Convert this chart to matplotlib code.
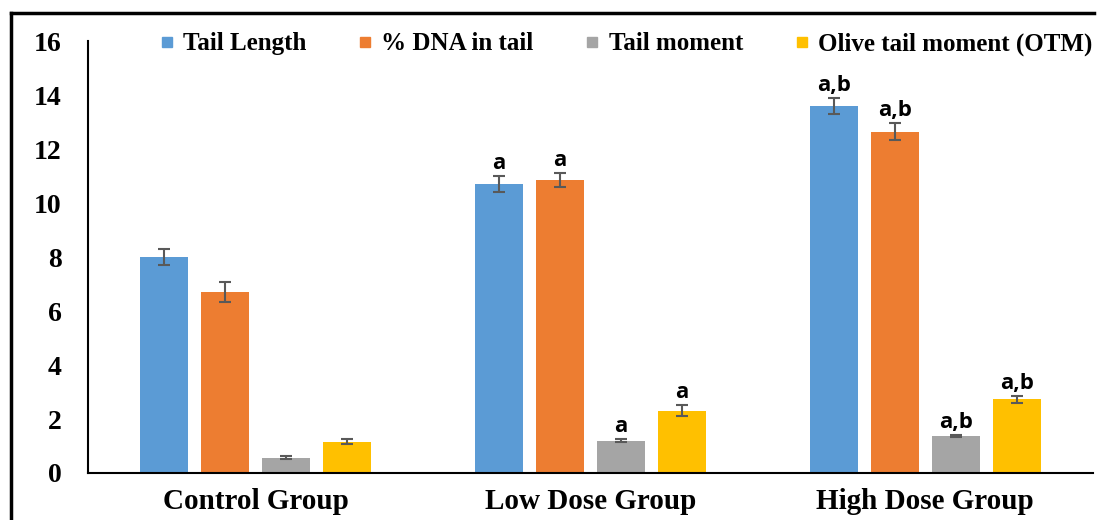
import numpy as np
import matplotlib
matplotlib.use("Agg")
import matplotlib.pyplot as plt
from matplotlib.lines import Line2D

# Comet assay parameters per group
groups = ["Control Group", "Low Dose Group", "High Dose Group"]
series = ["Tail Length", "% DNA in tail", "Tail moment", "Olive tail moment (OTM)"]
tail_length = [8.0, 10.7, 13.6]
dna_in_tail = [6.7, 10.85, 12.65]
tail_moment = [0.57, 1.2, 1.37]
olive_tm = [1.16, 2.31, 2.73]
tail_length_err = [0.3, 0.3, 0.3]
dna_in_tail_err = [0.37, 0.25, 0.32]
tail_moment_err = [0.05, 0.05, 0.05]
olive_tm_err = [0.09, 0.2, 0.12]
sig_labels = [
    ["", "a", "a,b"],
    ["", "a", "a,b"],
    ["", "a", "a,b"],
    ["", "a", "a,b"],
]

values = [tail_length, dna_in_tail, tail_moment, olive_tm]
errors = [tail_length_err, dna_in_tail_err, tail_moment_err, olive_tm_err]
colors = ["#5B9BD5", "#ED7D31", "#A5A5A5", "#FFC000"]

serif = "Liberation Serif"

fig = plt.figure(figsize=(11.07, 5.2), dpi=100)
ax = fig.add_axes([0.0795, 0.0904, 0.9075, 0.8306])

x = np.arange(len(groups))
width = 0.143
step = 0.182
handles = []
for i, (vals, errs, col) in enumerate(zip(values, errors, colors)):
    pos = x + (i - 1.5) * step
    ax.bar(pos, vals, width=width, color=col, zorder=2)
    ax.errorbar(pos, vals, yerr=errs, fmt="none", ecolor="#595959",
                elinewidth=1.5, capsize=4.5, capthick=1.5, zorder=3)
    for p, v, e, lab in zip(pos, vals, errs, sig_labels[i]):
        if lab:
            ax.annotate(lab, (p, v + e), xytext=(0, 5), textcoords="offset points",
                        ha="center", va="baseline", fontsize=16, fontweight="bold",
                        family="Open Sans", color="black")
    handles.append(Line2D([], [], marker="s", linestyle="none", markersize=7.5,
                          markerfacecolor=col, markeredgecolor=col, label=series[i]))

ax.set_xlim(-0.5, 2.5)
ax.set_ylim(0, 16)
ax.set_yticks(np.arange(0, 17, 2))
ax.set_xticks(x)
ax.set_xticklabels(groups)
for lab in ax.get_yticklabels():
    lab.set_fontfamily(serif)
    lab.set_fontweight("bold")
    lab.set_fontsize(20)
for lab in ax.get_xticklabels():
    lab.set_fontfamily(serif)
    lab.set_fontweight("bold")
    lab.set_fontsize(21)
ax.tick_params(axis="y", length=0, pad=19)
ax.tick_params(axis="x", length=0, pad=11)
ax.spines["top"].set_visible(False)
ax.spines["right"].set_visible(False)
ax.spines["left"].set_linewidth(1.5)
ax.spines["bottom"].set_linewidth(1.5)

leg = ax.legend(handles=handles, loc="center", bbox_to_anchor=(0.536, 0.993), ncol=4,
                frameon=False, handlelength=0.5, handletextpad=0.4, columnspacing=2.1,
                prop={"family": serif, "weight": "bold", "size": 18})

# outer frame (partially cropped in the original)
fig.add_artist(Line2D([0.0099, 0.0099], [0, 0.975], color="black", lw=2.5,
                      transform=fig.transFigure))
fig.add_artist(Line2D([0.0099, 0.988], [0.975, 0.975], color="black", lw=2.5,
                      transform=fig.transFigure))

fig.savefig("out.png", dpi=100)
